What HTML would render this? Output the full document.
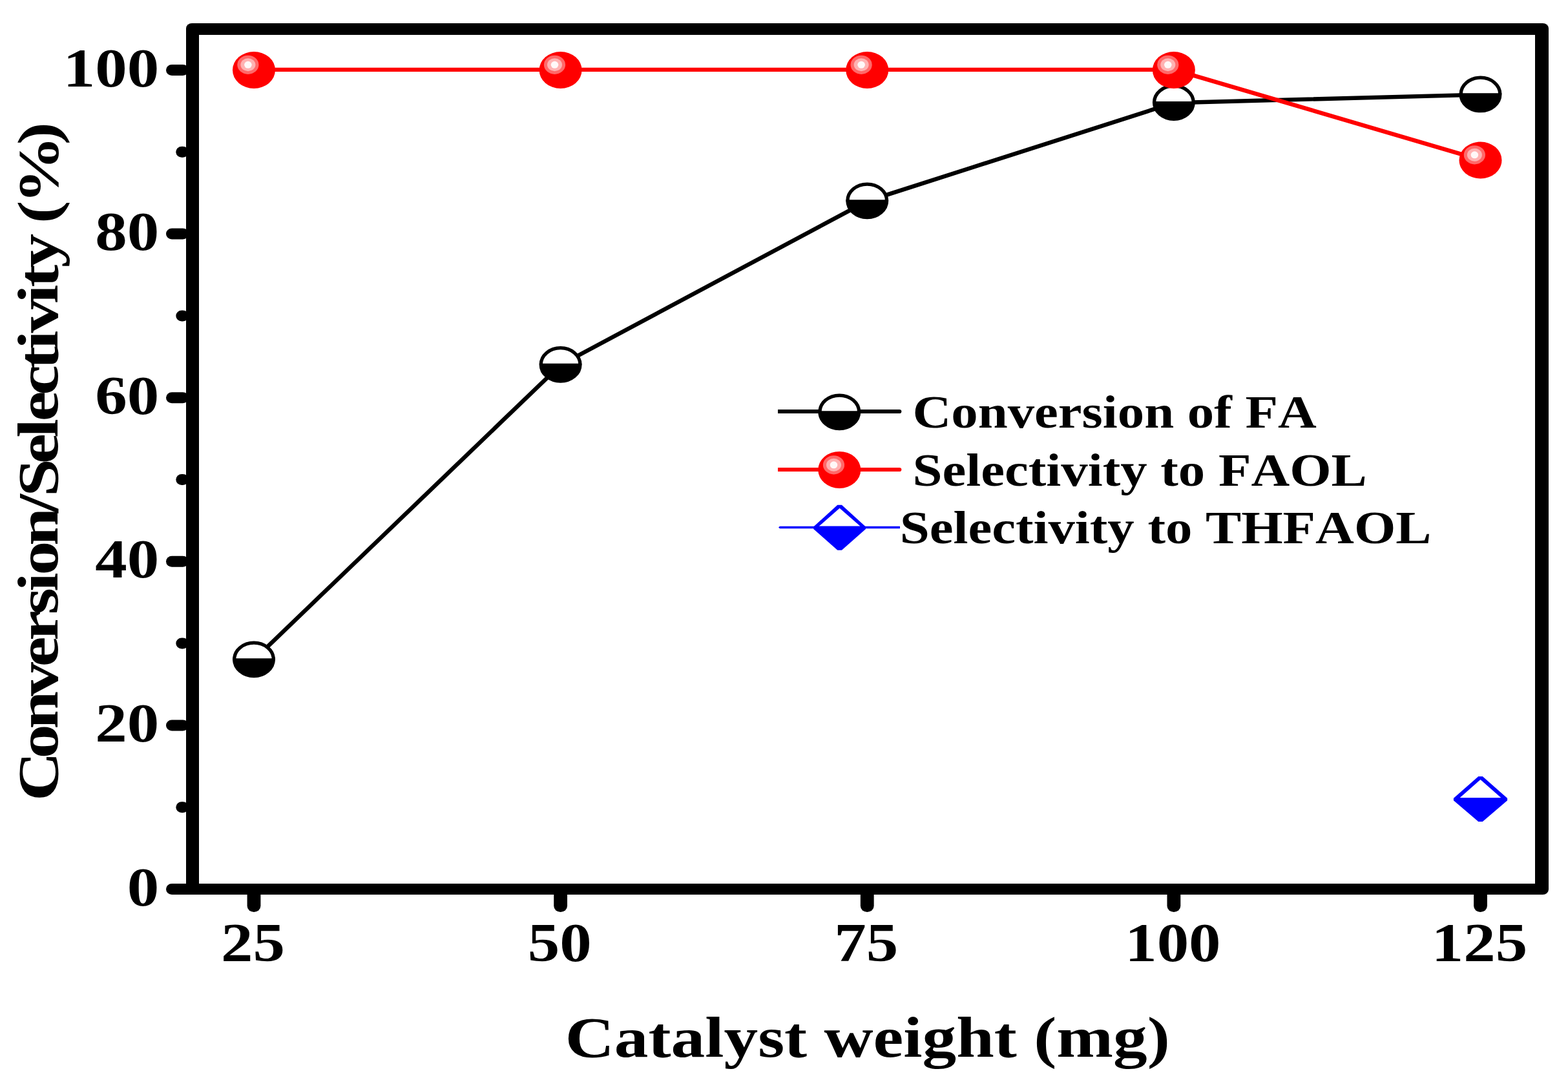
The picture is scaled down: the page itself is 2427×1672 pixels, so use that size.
<!DOCTYPE html>
<html lang="en"><head><meta charset="utf-8"><title>Conversion/Selectivity vs Catalyst weight</title>
<style>html,body{margin:0;padding:0;background:#fff;overflow:hidden}svg{display:block}text{font-family:"Liberation Serif","DejaVu Serif",serif;font-weight:bold;font-size:100px;fill:#000;font-kerning:none;font-variant-ligatures:none}</style>
</head><body>
<svg width="2427" height="1672" viewBox="0 0 2427 1672">
<rect x="0" y="0" width="2427" height="1672" fill="#fff"/>
<g id="axes" fill="#000">
<rect x="288" y="36" width="2109" height="1349" rx="9" ry="8"/>
<rect x="308" y="54" width="2068" height="1314" fill="#fff"/>
<rect x="257" y="1368" width="51" height="17" rx="9" ry="8.5"/>
<rect x="278" y="1368" width="30" height="17"/>
<rect x="272.3" y="1241.20" width="19.7" height="17.0" rx="9" ry="8.5"/>
<rect x="257" y="1114.40" width="35.0" height="17.0" rx="9" ry="8.5"/>
<rect x="272.3" y="987.60" width="19.7" height="17.0" rx="9" ry="8.5"/>
<rect x="257" y="860.80" width="35.0" height="17.0" rx="9" ry="8.5"/>
<rect x="272.3" y="734.00" width="19.7" height="17.0" rx="9" ry="8.5"/>
<rect x="257" y="607.20" width="35.0" height="17.0" rx="9" ry="8.5"/>
<rect x="272.3" y="480.40" width="19.7" height="17.0" rx="9" ry="8.5"/>
<rect x="257" y="353.60" width="35.0" height="17.0" rx="9" ry="8.5"/>
<rect x="272.3" y="226.80" width="19.7" height="17.0" rx="9" ry="8.5"/>
<rect x="257" y="100.00" width="35.0" height="17.0" rx="9" ry="8.5"/>
<rect x="382.60" y="1372" width="20.8" height="40" rx="10.4" ry="9.5"/>
<rect x="857.23" y="1372" width="20.8" height="40" rx="10.4" ry="9.5"/>
<rect x="1331.85" y="1372" width="20.8" height="40" rx="10.4" ry="9.5"/>
<rect x="1806.47" y="1372" width="20.8" height="40" rx="10.4" ry="9.5"/>
<rect x="2281.10" y="1372" width="20.8" height="40" rx="10.4" ry="9.5"/>
</g>
<g id="series">
<polyline points="393.00,1021.46 867.62,564.98 1342.25,311.38 1816.88,159.22 2291.50,146.54" fill="none" stroke="#000" stroke-width="6.4" stroke-linejoin="round"/>
<ellipse cx="393.00" cy="1020.86" rx="30.35" ry="25.75" fill="#fff" stroke="#000" stroke-width="5.3"/><path d="M360.05 1019.26 A33.0 28.4 0 0 0 425.95 1019.26 Z" fill="#000"/>
<ellipse cx="867.62" cy="564.38" rx="30.35" ry="25.75" fill="#fff" stroke="#000" stroke-width="5.3"/><path d="M834.68 562.78 A33.0 28.4 0 0 0 900.57 562.78 Z" fill="#000"/>
<ellipse cx="1342.25" cy="310.78" rx="30.35" ry="25.75" fill="#fff" stroke="#000" stroke-width="5.3"/><path d="M1309.30 309.18 A33.0 28.4 0 0 0 1375.20 309.18 Z" fill="#000"/>
<ellipse cx="1816.88" cy="158.62" rx="30.35" ry="25.75" fill="#fff" stroke="#000" stroke-width="5.3"/><path d="M1783.93 157.02 A33.0 28.4 0 0 0 1849.82 157.02 Z" fill="#000"/>
<ellipse cx="2291.50" cy="145.94" rx="30.35" ry="25.75" fill="#fff" stroke="#000" stroke-width="5.3"/><path d="M2258.55 144.34 A33.0 28.4 0 0 0 2324.45 144.34 Z" fill="#000"/>
<polyline points="393.00,107.90 867.62,107.90 1342.25,107.90 1816.88,107.90 2291.50,247.38" fill="none" stroke="#f00" stroke-width="6.4" stroke-linejoin="round"/>
<ellipse cx="393.00" cy="108.50" rx="33.0" ry="28.5" fill="#f00"/><ellipse cx="383.90" cy="100.30" rx="16.6" ry="14.6" fill="#ff6969"/><ellipse cx="383.90" cy="100.30" rx="11.5" ry="10.0" fill="#ffb2b2"/><ellipse cx="383.90" cy="100.30" rx="5.8" ry="5.5" fill="#fff8f8"/>
<ellipse cx="867.62" cy="108.50" rx="33.0" ry="28.5" fill="#f00"/><ellipse cx="858.52" cy="100.30" rx="16.6" ry="14.6" fill="#ff6969"/><ellipse cx="858.52" cy="100.30" rx="11.5" ry="10.0" fill="#ffb2b2"/><ellipse cx="858.52" cy="100.30" rx="5.8" ry="5.5" fill="#fff8f8"/>
<ellipse cx="1342.25" cy="108.50" rx="33.0" ry="28.5" fill="#f00"/><ellipse cx="1333.15" cy="100.30" rx="16.6" ry="14.6" fill="#ff6969"/><ellipse cx="1333.15" cy="100.30" rx="11.5" ry="10.0" fill="#ffb2b2"/><ellipse cx="1333.15" cy="100.30" rx="5.8" ry="5.5" fill="#fff8f8"/>
<ellipse cx="1816.88" cy="108.50" rx="33.0" ry="28.5" fill="#f00"/><ellipse cx="1807.78" cy="100.30" rx="16.6" ry="14.6" fill="#ff6969"/><ellipse cx="1807.78" cy="100.30" rx="11.5" ry="10.0" fill="#ffb2b2"/><ellipse cx="1807.78" cy="100.30" rx="5.8" ry="5.5" fill="#fff8f8"/>
<ellipse cx="2291.50" cy="247.98" rx="33.0" ry="28.5" fill="#f00"/><ellipse cx="2282.40" cy="239.78" rx="16.6" ry="14.6" fill="#ff6969"/><ellipse cx="2282.40" cy="239.78" rx="11.5" ry="10.0" fill="#ffb2b2"/><ellipse cx="2282.40" cy="239.78" rx="5.8" ry="5.5" fill="#fff8f8"/>
<path d="M2288.20 1202.02 L2294.80 1202.02 L2333.10 1235.82 L2333.10 1239.22 L2294.80 1272.02 L2288.20 1272.02 L2249.90 1239.22 L2249.90 1235.82 Z" fill="#00f"/><path d="M2291.50 1207.02 L2323.30 1234.92 L2259.70 1234.92 Z" fill="#fff"/>
</g>
<g id="legend">
<path d="M1204 633.9 H1392 A3.4 3.1 0 0 1 1392 640.1 H1204 Z" fill="#000"/>
<ellipse cx="1299.30" cy="637.80" rx="30.35" ry="25.75" fill="#fff" stroke="#000" stroke-width="5.3"/><path d="M1266.35 636.20 A33.0 28.4 0 0 0 1332.25 636.20 Z" fill="#000"/>
<path d="M1204 723.9 H1392 A3.4 3.1 0 0 1 1392 730.1 H1204 Z" fill="#f00"/>
<ellipse cx="1299.30" cy="727.40" rx="33.0" ry="28.5" fill="#f00"/><ellipse cx="1290.50" cy="719.80" rx="16.6" ry="14.6" fill="#ff6969"/><ellipse cx="1290.50" cy="719.80" rx="11.5" ry="10.0" fill="#ffb2b2"/><ellipse cx="1290.50" cy="719.80" rx="5.8" ry="5.5" fill="#fff8f8"/>
<path d="M1205 816.5 L1207 814.7 H1393 V818.3 H1207 Z" fill="#00f"/>
<path d="M1296.30 781.70 L1302.90 781.70 L1340.00 815.50 L1340.00 818.90 L1302.90 851.70 L1296.30 851.70 L1259.20 818.90 L1259.20 815.50 Z" fill="#00f"/><path d="M1299.60 786.70 L1331.40 814.60 L1267.80 814.60 Z" fill="#fff"/>
<text transform="translate(1412.60 661.60) scale(0.8275 0.7120)" text-anchor="start">Conversion of FA</text>
<text transform="translate(1412.60 751.70) scale(0.8275 0.7120)" text-anchor="start">Selectivity to FAOL</text>
<text transform="translate(1392.70 840.60) scale(0.8275 0.7120)" text-anchor="start">Selectivity to THFAOL</text>
</g>
<g id="ticklabels">
<text transform="translate(246.30 1401.60) scale(0.9900 0.8530)" text-anchor="end">0</text>
<text transform="translate(246.30 1148.00) scale(0.9900 0.8530)" text-anchor="end">20</text>
<text transform="translate(246.30 894.40) scale(0.9900 0.8530)" text-anchor="end">40</text>
<text transform="translate(246.30 640.80) scale(0.9900 0.8530)" text-anchor="end">60</text>
<text transform="translate(246.30 387.20) scale(0.9900 0.8530)" text-anchor="end">80</text>
<text transform="translate(246.30 133.60) scale(0.9900 0.8530)" text-anchor="end">100</text>
<text transform="translate(391.50 1488.00) scale(0.9900 0.8530)" text-anchor="middle">25</text>
<text transform="translate(866.12 1488.00) scale(0.9900 0.8530)" text-anchor="middle">50</text>
<text transform="translate(1340.75 1488.00) scale(0.9900 0.8530)" text-anchor="middle">75</text>
<text transform="translate(1815.38 1488.00) scale(0.9900 0.8530)" text-anchor="middle">100</text>
<text transform="translate(2290.00 1488.00) scale(0.9900 0.8530)" text-anchor="middle">125</text>
</g>
<g id="titles">
<text transform="translate(874.73 1636.00) scale(1.0535 0.8900)" text-anchor="start">Catalyst weight (mg)</text>
<text transform="translate(88.9 1240.0) rotate(-90) scale(1.0535 0.89)" x="0.00 62.52 105.80 153.95 197.24 235.66 274.08 307.77 331.82 375.10 423.25 447.30 495.45 533.87 557.92 596.34 634.76 663.58 687.63 730.92 754.96 783.79 827.08 848.72 877.55 964.11" y="0">Conversion/Selectivity (%)</text>
</g>
</svg></body></html>
